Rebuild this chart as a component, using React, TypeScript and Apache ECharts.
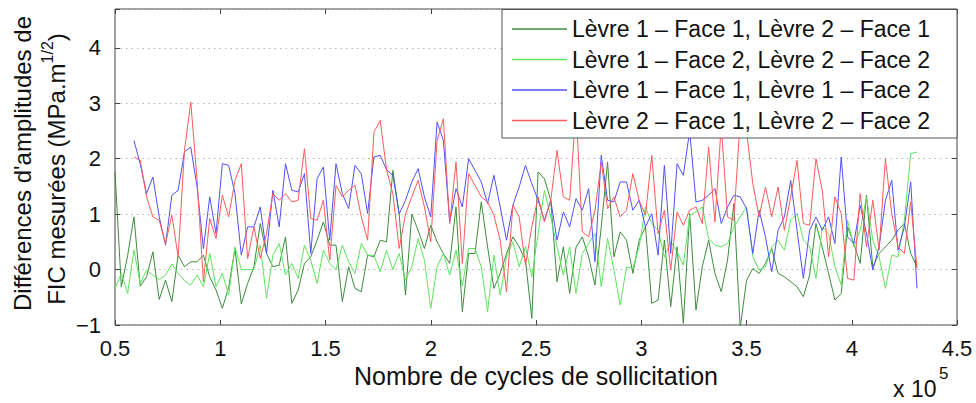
import React, { useEffect, useRef } from "react";
import * as echarts from "echarts";

// x axis in units of 10^5 cycles; samples every 0.03 (3000 cycles)
const xStart = 0.5;
const xStep = 0.03;
const lateStartIndex = 3; // blue & red series start at sample 3

const seriesNames = [
  "Lèvre 1 – Face 1, Lèvre 2 – Face 1",
  "Lèvre 1 – Face 2, Lèvre 2 – Face 2",
  "Lèvre 1 – Face 1, Lèvre 1 – Face 2",
  "Lèvre 2 – Face 1, Lèvre 2 – Face 2",
];

const xTicks = [0.5, 1, 1.5, 2, 2.5, 3, 3.5, 4, 4.5];
const yTicks = [-1, 0, 1, 2, 3, 4];

const l1f1_l2f1: number[] = [
  1.76, -0.31, 0.25, 0.95, -0.3, -0.13, 0.32, -0.54, -0.19, -0.58,
  0.26, 0.05, 0.14, 0.14, 0.26, -0.13, -0.37, -0.7, -0.32, 0.38,
  -0.62, -0.25, 0.05, 0.83, 0.29, 0.05, 0.08, 0.59, -0.61, -0.37,
  0.11, 0.23, 0.53, 0.86, 0.44, 0.44, -0.58, 0.05, -0.34, -0.4,
  0.26, 0.23, 0.53, 0.5, 1.79, 1.0, -0.46, 1.0, 0.71, 0.38,
  0.8, 0.5, 0.29, 0.11, 1.13, -0.76, 0.29, 0.29, 1.22, 0.41,
  -0.34, -0.07, 0.29, 0.59, 0.41, 0.17, -0.88, 1.76, 1.64, 1.25,
  -0.22, 0.41, -0.43, 0.4, 0.59, 0.23, -0.28, 0.77, 1.94, 0.23,
  0.68, 0.53, -0.07, 0.53, 0.77, -0.61, -0.55, 0.53, -0.67, 0.41,
  -0.97, 1.01, -0.73, 0.05, 0.53, -0.07, -0.4, 0.17, 1.19, -1.05,
  -0.2, 0.02, -0.07, 0.11, 0.38, -0.07, -0.13, -0.22, -0.31, -0.49,
  -0.1, 0.83, 0.4, -0.07, -0.55, -0.43, 0.77, 0.47, 0.11, 1.34,
  0.05, 0.29, 0.41, 0.53, 0.71, 0.83, 0.29, 0.05,
];

const l1f2_l2f2: number[] = [
  -0.34, -0.07, -0.43, 0.35, -0.25, -0.01, -0.1, -0.18, -0.1, 0.1,
  -0.07, -0.2, -0.28, -0.1, -0.31, 0.29, -0.31, -0.07, -0.46, 0.41,
  0.0, 0.0, 0.0, 0.44, -0.52, 0.26, 0.47, -0.1, 0.11, -0.16,
  0.44, 0.17, -0.25, 0.35, 0.11, 0.0, 0.44, 0.14, -0.07, 0.47,
  0.26, 0.26, -0.04, 0.35, 0.0, 0.29, -0.19, 0.05, 0.56, 0.17,
  -0.7, 0.05, 0.29, -0.1, 0.35, -0.3, 0.38, 0.38, 0.05, -0.76,
  0.26, -0.46, 0.23, 0.5, 0.05, 0.41, -0.13, 0.65, 1.43, 0.95,
  0.41, -0.1, 0.41, -0.43, 0.29, 0.47, 0.65, -0.31, 0.56, 0.0,
  -0.64, 0.05, 0.02, 0.41, 1.13, 0.83, 0.71, 0.23, 0.5, 0.32,
  0.08, 0.98, 1.04, 1.13, 0.56, 0.44, 0.41, 0.47, 0.77, 0.95,
  1.13, 0.23, -0.01, 0.05, 0.41, 0.53, 0.35, 0.89, 1.01, 0.53,
  0.41, -0.16, 0.77, 0.65, 0.05, -0.28, 0.89, 0.41, 0.71, 1.31,
  0.53, 0.23, -0.34, 0.26, 0.23, 0.89, 2.09, 2.12,
];

const l1f1_l1f2: number[] = [
  2.33, 1.9, 1.37, 1.67, 0.95, 0.44, 1.34, 1.43, 2.12, 2.21,
  1.49, 0.38, 1.31, 0.65, 1.91, 1.88, 1.37, 0.26, 0.77, 0.77,
  1.13, 0.29, 1.43, 0.77, 1.91, 1.43, 1.4, 1.73, 0.29, 1.64,
  1.85, 0.53, 1.91, 1.37, 1.1, 1.88, 1.73, 1.01, 2.03, 2.06,
  1.8, 1.7, 1.0, 1.25, 1.58, 1.82, 1.31, 0.95, 2.66, 2.33,
  0.86, 1.46, 1.13, 2.0, 1.79, 1.58, 1.19, 1.7, 1.13, 0.53,
  1.16, 1.49, 1.88, 1.55, 1.25, 0.89, 1.25, 0.53, 1.04, 0.77,
  1.28, 1.07, 1.46, 0.14, 2.06, 1.25, 1.22, 1.58, 1.58, 1.07,
  1.25, 0.77, 1.01, 0.26, 1.88, 0.29, 1.91, 1.7, 2.5, 1.22,
  1.25, 1.34, 1.46, 0.83, 1.13, 1.34, 1.31, 1.1, 0.29, 1.07,
  0.59, -0.04, 0.71, 0.95, 1.61, 0.71, -0.16, 0.71, 0.95, 0.71,
  0.95, 0.47, 2.03, 0.59, 0.47, 1.16, 0.65, -0.01, 0.41, 1.25,
  1.61, 0.35, 0.77, 1.58, -0.34,
];

const l2f1_l2f2: number[] = [
  2.03, 1.97, 1.31, 0.95, 0.89, 0.47, 0.98, 0.23, 2.15, 3.02,
  1.61, -0.22, 0.92, 0.56, 1.34, 0.95, 1.61, 1.91, 0.2, 0.77,
  0.2, 0.65, 1.37, 1.25, 1.37, 1.22, 1.25, 2.18, 0.92, 0.89,
  1.25, 0.17, 1.52, 1.31, 1.43, 1.52, 0.95, 0.53, 2.48, 2.69,
  1.8, 1.37, 0.38, 1.0, 1.31, 1.61, 1.13, 0.5, 2.33, 2.72,
  0.83, 1.94, 0.11, 1.73, 1.52, 1.31, 1.22, 0.98, 0.53, -0.4,
  1.16, 0.95, 0.08, 0.77, 1.31, 0.86, 1.25, 2.15, 1.31, 1.25,
  2.9, 0.68, 0.59, 1.07, 1.94, 1.1, 1.31, 0.95, 1.07, 1.73,
  1.25, 0.98, 2.06, 0.65, 1.07, -0.01, 1.04, 0.8, 1.07, 1.13,
  0.83, 2.21, 0.86, 2.6, 0.95, 0.89, 2.7, 2.5, 1.55, 0.95,
  1.49, 0.95, 1.49, 0.71, 1.31, 1.97, 0.83, 0.8, 2.0, 1.43,
  0.23, 1.31, 1.01, -0.16, -0.19, 1.37, 0.41, 1.25, 0.35, 2.0,
  1.01, 0.41, 0.29, 1.22, 0.02,
];

const colors = ["#3d8c3d", "#5ce65c", "#5050ff", "#ff5a5a"];
const FONT = "'Liberation Sans', Arial, Helvetica, sans-serif";

function toPairs(vals: number[], offset: number): number[][] {
  return vals.map((v, i) => [Math.round((xStart + (i + offset) * xStep) * 1000) / 1000, v]);
}

export default function App() {
  const ref = useRef<HTMLDivElement>(null);

  useEffect(() => {
    if (!ref.current) return;
    const chart = echarts.init(ref.current, null, { renderer: "svg" });

    const xMin = xTicks[0];
    const xMax = xTicks[xTicks.length - 1];
    const yMin = yTicks[0];
    const yMax = 4.7;

    const fmtY = (v: number) => {
      if (!Number.isInteger(v)) return "";
      return v < 0 ? "\u2212" + Math.abs(v) : String(v);
    };

    const seriesData = [
      toPairs(l1f1_l2f1, 0),
      toPairs(l1f2_l2f2, 0),
      toPairs(l1f1_l1f2, lateStartIndex),
      toPairs(l2f1_l2f2, lateStartIndex),
    ];

    const tickStyle = { show: true, inside: true, length: 5, lineStyle: { color: "#444", width: 1 } };
    const hiddenLine = { show: false, onZero: false };

    const option: any = {
      animation: false,
      backgroundColor: "#ffffff",
      textStyle: { fontFamily: FONT },
      grid: {
        left: 115,
        right: 19,
        top: 9,
        bottom: 78,
        show: true,
        borderColor: "#444",
        borderWidth: 1,
        backgroundColor: "#ffffff",
      },
      xAxis: [
        {
          type: "value",
          min: xMin,
          max: xMax,
          interval: 0.5,
          position: "bottom",
          axisLine: hiddenLine,
          axisTick: tickStyle,
          splitLine: { show: false },
          axisLabel: {
            fontSize: 22,
            color: "#111",
            margin: 12,
            fontFamily: FONT,
            formatter: (v: number) => String(v),
          },
          name: "Nombre de cycles de sollicitation",
          nameLocation: "middle",
          nameGap: 38,
          nameTextStyle: { fontSize: 25, color: "#111", fontFamily: FONT, verticalAlign: "top" },
        },
        {
          type: "value",
          min: xMin,
          max: xMax,
          interval: 0.5,
          position: "top",
          axisLine: hiddenLine,
          axisTick: tickStyle,
          splitLine: { show: false },
          axisLabel: { show: false },
        },
      ],
      yAxis: [
        {
          type: "value",
          min: yMin,
          max: yMax,
          interval: 1,
          position: "left",
          axisLine: hiddenLine,
          axisTick: tickStyle,
          splitLine: {
            show: true,
            lineStyle: { color: "#b4b4b4", width: 1, type: [1.5, 4] },
          },
          axisLabel: {
            fontSize: 22,
            color: "#111",
            margin: 14,
            fontFamily: FONT,
            formatter: fmtY,
          },
        },
        {
          type: "value",
          min: yMin,
          max: yMax,
          interval: 1,
          position: "right",
          axisLine: hiddenLine,
          axisTick: tickStyle,
          splitLine: { show: false },
          axisLabel: { show: false },
        },
      ],
      legend: {
        show: true,
        orient: "vertical",
        left: 512,
        top: 17,
        padding: 0,
        icon: "rect",
        itemWidth: 55,
        itemHeight: 1.5,
        itemGap: 6.5,
        selectedMode: false,
        z: 60,
        data: seriesNames,
        textStyle: { fontSize: 23, lineHeight: 24, color: "#111", fontFamily: FONT },
      },
      graphic: [
        {
          type: "rect",
          z: 50,
          shape: { x: 502, y: 9.5, width: 455, height: 128.5 },
          style: { fill: "#ffffff", stroke: "#555", lineWidth: 1 },
        },
        {
          type: "text",
          x: 22,
          y: 163.5,
          rotation: Math.PI / 2,
          z: 50,
          style: {
            text: "Différences d'amplitudes de",
            fontSize: 24,
            fontFamily: FONT,
            fill: "#111",
            align: "center",
            verticalAlign: "middle",
          },
        },
        {
          type: "text",
          x: 56,
          y: 169,
          rotation: Math.PI / 2,
          z: 50,
          style: {
            text: "{a|FIC mesurées (MPa.m}{s|1/2}{a|)}",
            align: "center",
            verticalAlign: "middle",
            rich: {
              a: { fontSize: 24, lineHeight: 34, fontFamily: FONT, fill: "#111", color: "#111" },
              s: { fontSize: 16, lineHeight: 16, fontFamily: FONT, fill: "#111", color: "#111", verticalAlign: "top" },
            },
          },
        },
        {
          type: "text",
          x: 893,
          y: 389,
          z: 50,
          style: {
            text: "x 10",
            fontSize: 23,
            fontFamily: FONT,
            fill: "#111",
            align: "left",
            verticalAlign: "middle",
          },
        },
        {
          type: "text",
          x: 939,
          y: 373,
          z: 50,
          style: {
            text: "5",
            fontSize: 17,
            fontFamily: FONT,
            fill: "#111",
            align: "left",
            verticalAlign: "middle",
          },
        },
      ],
      series: seriesNames.map((name, k) => ({
        name,
        type: "line",
        xAxisIndex: 0,
        yAxisIndex: 0,
        data: seriesData[k],
        symbol: "none",
        showSymbol: false,
        clip: true,
        z: 2 + k,
        lineStyle: { color: colors[k], width: 1 },
        itemStyle: { color: colors[k] },
      })),
    };

    chart.setOption(option);
    return () => chart.dispose();
  }, []);

  return (
    <div
      ref={ref}
      style={{ position: "fixed", left: 0, top: 0, width: 976, height: 403, background: "#fff" }}
    />
  );
}
